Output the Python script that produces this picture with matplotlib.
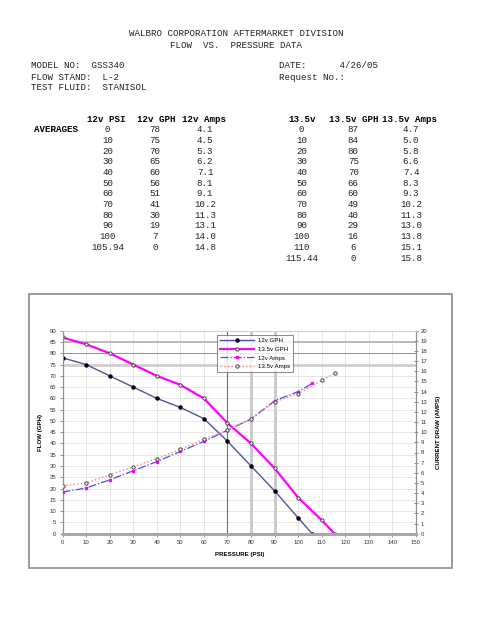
import matplotlib
matplotlib.use('Agg')
import matplotlib.pyplot as plt
from matplotlib.patches import Rectangle

# data
psi_12 = [0, 10, 20, 30, 40, 50, 60, 70, 80, 90, 100, 105.94]
gph_12 = [78, 75, 70, 65, 60, 56, 51, 41, 30, 19, 7, 0]
amps_12 = [4.1, 4.5, 5.3, 6.2, 7.1, 8.1, 9.1, 10.2, 11.3, 13.1, 14.0, 14.8]

psi_135 = [0, 10, 20, 30, 40, 50, 60, 70, 80, 90, 100, 110, 115.44]
gph_135 = [87, 84, 80, 75, 70, 66, 60, 49, 40, 29, 16, 6, 0]
amps_135 = [4.7, 5.0, 5.8, 6.6, 7.4, 8.3, 9.3, 10.2, 11.3, 13.0, 13.8, 15.1, 15.8]

psi_labels_12 = ['0', '10', '20', '30', '40', '50', '60', '70', '80', '90', '100', '105.94']
psi_labels_135 = ['0', '10', '20', '30', '40', '50', '60', '70', '80', '90', '100', '110', '115.44']

W, H = 495, 640
mono = 'Liberation Mono'
sans = 'Liberation Sans'

fig = plt.figure(figsize=(W / 100, H / 100), dpi=100)


def put(x, y, s, **kw):
	# pixel coords from the top left
	kw.setdefault('family', mono)
	kw.setdefault('fontsize', 6.6)
	kw.setdefault('va', 'center')
	kw.setdefault('color', '#222222')
	fig.text(x / W, 1 - y / H, s, **kw)


put(236, 34, 'WALBRO CORPORATION AFTERMARKET DIVISION', ha='center')
put(236, 45, 'FLOW  VS.  PRESSURE DATA', ha='center')
put(31, 66, 'MODEL NO:  GSS340')
put(31, 77, 'FLOW STAND:  L-2')
put(31, 88, 'TEST FLUID:  STANISOL')
put(279, 66, 'DATE:      4/26/05')
put(279, 77, 'Request No.:')

# table
put(106, 119, '12v PSI', ha='center', weight='bold', color='black')
put(156, 119, '12v GPH', ha='center', weight='bold', color='black')
put(204, 119, '12v Amps', ha='center', weight='bold', color='black')
put(302, 119, '13.5v', ha='center', weight='bold', color='black')
put(354, 119, '13.5v GPH', ha='center', weight='bold', color='black')
put(410, 119, '13.5v Amps', ha='center', weight='bold', color='black')
put(56, 129.7, 'AVERAGES', ha='center', weight='bold', color='black')

row = 10.7
for i in range(len(psi_12)):
	y = 129.7 + i * row
	put(107.7, y, psi_labels_12[i], ha='center')
	put(155, y, str(gph_12[i]), ha='center')
	put(205, y, '%.1f' % amps_12[i], ha='center')
for i in range(len(psi_135)):
	y = 129.7 + i * row
	put(301.7, y, psi_labels_135[i], ha='center')
	put(353.3, y, str(gph_135[i]), ha='center')
	put(411, y, '%.1f' % amps_135[i], ha='center')

# chart frame
fig.patches.append(Rectangle((29 / W, 1 - 568 / H), (452 - 29) / W, (568 - 294) / H,
	transform=fig.transFigure, fill=False, edgecolor='#8a8a8a', linewidth=1.2))

left, right, top, bottom = 62.5, 416, 330.7, 533.7
ax = fig.add_axes([left / W, 1 - bottom / H, (right - left) / W, (bottom - top) / H])
ax2 = ax.twinx()

ax.set_xlim(0, 150)
ax.set_ylim(0, 90)
ax2.set_ylim(0, 20)
ax.set_xticks(range(0, 151, 10))
ax.set_yticks(range(0, 91, 5))
ax2.set_yticks(range(0, 21, 1))

for x in range(10, 151, 10):
	ax.axvline(x, color='#e2e2e2', lw=0.6, zorder=0)
for y in range(5, 91, 5):
	ax.axhline(y, color='#e2e2e2', lw=0.6, zorder=0)
# the odd heavier rules Excel left in the plot area
ax.axhline(85, color='#b0b0b0', lw=1.2, zorder=0.5)
ax.axhline(80, color='#909090', lw=0.7, zorder=0.5)
ax.axhline(75, color='#cfcfcf', lw=2.0, zorder=0.5)
ax.axvline(70, color='#707070', lw=0.8, zorder=0.5)
ax.axvline(80, color='#c8c8c8', lw=2.0, zorder=0.5)
ax.axvline(90, color='#c8c8c8', lw=2.0, zorder=0.5)

for a in (ax, ax2):
	a.patch.set_visible(False)
	a.spines['top'].set_color('#d0d0d0')
	a.spines['top'].set_linewidth(0.6)
	a.spines['left'].set_color('#909090')
	a.spines['right'].set_color('#909090')
	a.spines['bottom'].set_color('#a8a8a8')
	a.spines['bottom'].set_linewidth(2.0)

ax.tick_params(axis='both', labelsize=4.3, length=2.5, width=0.6, color='#808080', pad=2,
	labelcolor='#333333')
ax2.tick_params(axis='y', labelsize=4.3, length=3, width=0.6, color='#808080', direction='inout',
	pad=2, labelcolor='#333333')
for lab in ax.get_xticklabels() + ax.get_yticklabels() + ax2.get_yticklabels():
	lab.set_family(sans)

l1, = ax.plot(psi_12, gph_12, color='#4c55a0', lw=1.0, marker='o', ms=2.2,
	mfc='black', mec='black', label='12v GPH', zorder=3)
l2, = ax.plot(psi_135, gph_135, color='#ff00ff', lw=1.6, marker='o', ms=2.4,
	mfc='#eeeeee', mec='#333333', mew=0.6, label='13.5v GPH', zorder=3)
l3, = ax2.plot(psi_12, amps_12, color='#4a4aff', lw=0.9, ls='-.', marker='s', ms=2.0,
	mfc='#ff00ff', mec='#ff00ff', label='12v Amps', zorder=3)
l4, = ax2.plot(psi_135, amps_135, color='#ff7f7f', lw=1.0, ls=':', marker='o', ms=2.4,
	mfc='#eeeeee', mec='#333333', mew=0.6, label='13.5v Amps', zorder=3)

ax.set_xlabel('PRESSURE (PSI)', family=sans, weight='bold', fontsize=4.4, labelpad=5)
ax.set_ylabel('FLOW (GPH)', family=sans, weight='bold', fontsize=4.4, labelpad=5)
ax2.set_ylabel('CURRENT DRAW (AMPS)', family=sans, weight='bold', fontsize=4.4, labelpad=6)

leg = ax2.legend(handles=[l1, l2, l3, l4], loc='upper left', bbox_to_anchor=(0.438, 0.979),
	prop={'family': sans, 'size': 4.4}, frameon=True, fancybox=False, borderpad=0.5,
	handlelength=5.5, labelspacing=0.55, handletextpad=0.6, borderaxespad=0)
leg.get_frame().set_edgecolor('#555555')
leg.get_frame().set_linewidth(0.6)

fig.savefig('out.png', dpi=100)
